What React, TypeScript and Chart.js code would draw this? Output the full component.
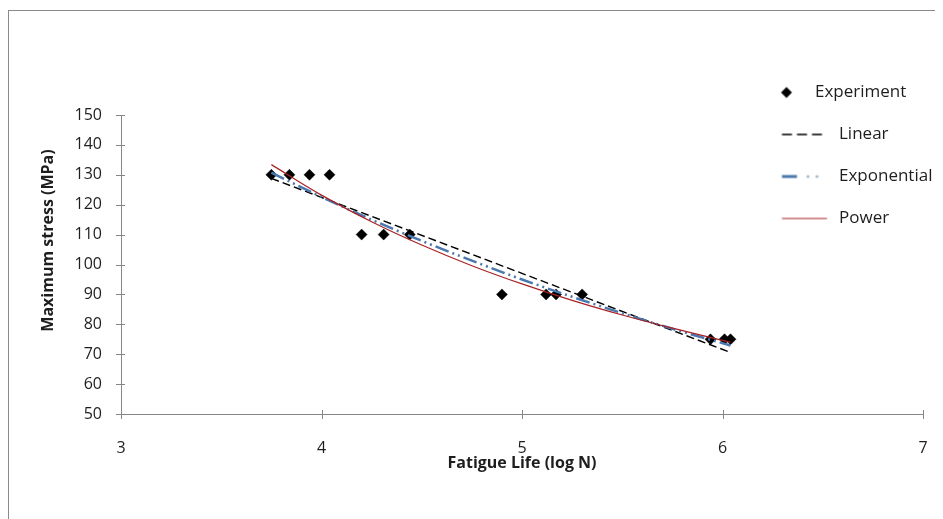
import React, { useEffect, useRef } from 'react';
import { Chart, registerables } from 'chart.js';

Chart.register(...registerables);

// ---- data ----
const EXPERIMENT_X = [3.75, 3.84, 3.94, 4.04, 4.2, 4.31, 4.44, 4.9, 5.12, 5.17, 5.3, 5.94, 6.01, 6.04];
const EXPERIMENT_Y = [130, 130, 130, 130, 110, 110, 110, 90, 90, 90, 90, 75, 75, 75];
const LINEAR_X = [3.75, 6.04];
const LINEAR_Y = [128.8, 70.6];
const EXPONENTIAL_X = [3.75, 4, 4.25, 4.5, 4.75, 5, 5.25, 5.5, 5.75, 6.04];
const EXPONENTIAL_Y = [130.7, 122.6, 115.0, 107.9, 101.3, 95.0, 89.2, 83.7, 78.5, 72.9];
const POWER_X = [3.75, 4, 4.25, 4.5, 4.75, 5, 5.25, 5.5, 5.75, 6.04];
const POWER_Y = [133.4, 123.2, 114.3, 106.5, 99.6, 93.5, 88.0, 83.1, 78.7, 74.0];
const SERIES_NAMES = ['Experiment', 'Linear', 'Exponential', 'Power'];
const X_TICKS = [3, 4, 5, 6, 7];
const Y_TICKS = [50, 60, 70, 80, 90, 100, 110, 120, 130, 140, 150];
const X_TITLE = 'Fatigue Life (log N)';
const Y_TITLE = 'Maximum stress (MPa)';

const FONT = "'Open Sans', 'DejaVu Sans', sans-serif";
const LEGEND_FONT_SIZE = 17;
const AXIS_COLOR = '#868686';
const TEXT_COLOR = '#1e1e1e';
const EXP_COLOR = '#4A78AE';
const POWER_COLOR = '#A82326';

const pts = (xs: number[], ys: number[]) => xs.map((x, i) => ({ x, y: ys[i] }));

function makeSample(kind: string): HTMLCanvasElement {
  const c = document.createElement('canvas');
  c.width = 52;
  c.height = 14;
  const g = c.getContext('2d')!;
  const cy = 7;
  if (kind === 'diamond') {
    const cx = 8, r = 5.5;
    g.fillStyle = '#000';
    g.beginPath();
    g.moveTo(cx - r, cy);
    g.lineTo(cx, cy - r);
    g.lineTo(cx + r, cy);
    g.lineTo(cx, cy + r);
    g.closePath();
    g.fill();
  } else if (kind === 'linear') {
    g.strokeStyle = '#000';
    g.lineWidth = 1.5;
    g.setLineDash([10, 5]);
    g.beginPath();
    g.moveTo(3.5, cy);
    g.lineTo(48.5, cy);
    g.stroke();
  } else if (kind === 'exp') {
    g.strokeStyle = EXP_COLOR;
    g.lineWidth = 3;
    g.beginPath();
    g.moveTo(3.5, cy);
    g.lineTo(18.5, cy);
    g.stroke();
    g.fillStyle = '#a9bccd';
    [29.5, 38.5].forEach((dx) => {
      g.beginPath();
      g.arc(dx, cy, 1.6, 0, Math.PI * 2);
      g.fill();
    });
  } else {
    g.strokeStyle = POWER_COLOR;
    g.lineWidth = 1.2;
    g.beginPath();
    g.moveTo(3.5, cy);
    g.lineTo(48.5, cy);
    g.stroke();
  }
  return c;
}

export default function App() {
  const ref = useRef<HTMLCanvasElement | null>(null);

  useEffect(() => {
    document.documentElement.style.overflow = 'hidden';
    document.body.style.overflow = 'hidden';
    const canvas = ref.current;
    if (!canvas) return;

    const samples = [makeSample('diamond'), makeSample('linear'), makeSample('exp'), makeSample('power')];

    const legendPlacer = {
      id: 'legendPlacer',
      afterLayout(chart: any) {
        const l = chart.legend;
        if (!l) return;
        const left = 745.5;
        const top = 51;
        const ctx = chart.ctx;
        ctx.save();
        ctx.font = `${LEGEND_FONT_SIZE}px ${FONT}`;
        const w = ctx.measureText(SERIES_NAMES[0]).width;
        ctx.restore();
        const right = 807 + w; // "Experiment" text is right-aligned to this edge
        l.left = left;
        l.top = top;
        l.width = right - left;
        l.height = 220;
        l.right = right;
        l.bottom = top + 220;
        if (!l.__noclip && typeof l._draw === 'function') {
          l.__noclip = true;
          l.draw = function () {
            if (this.options.display) this._draw();
          };
        }
      },
    };

    const crossTicks = {
      id: 'crossTicks',
      beforeDatasetsDraw(chart: any) {
        const { ctx, scales } = chart;
        const xs = scales.x;
        const ys = scales.y;
        ctx.save();
        ctx.strokeStyle = AXIS_COLOR;
        ctx.lineWidth = 1;
        ctx.beginPath();
        X_TICKS.forEach((v) => {
          const px = Math.round(xs.getPixelForValue(v)) + 0.5;
          ctx.moveTo(px, xs.top - 4);
          ctx.lineTo(px, xs.top + 5);
        });
        Y_TICKS.forEach((v) => {
          const py = Math.round(ys.getPixelForValue(v)) + 0.5;
          ctx.moveTo(ys.right - 5, py);
          ctx.lineTo(ys.right + 4, py);
        });
        ctx.stroke();
        ctx.restore();
      },
    };

    const chart = new Chart(canvas, {
      type: 'scatter',
      data: {
        datasets: [
          {
            label: SERIES_NAMES[0],
            data: pts(EXPERIMENT_X, EXPERIMENT_Y),
            pointStyle: 'rectRot',
            pointRadius: 5.5,
            pointBackgroundColor: '#000',
            pointBorderColor: '#000',
            pointBorderWidth: 0.5,
            showLine: false,
            order: 10,
          },
          {
            label: SERIES_NAMES[1],
            data: pts(LINEAR_X, LINEAR_Y),
            showLine: true,
            borderColor: '#000',
            borderWidth: 1.4,
            borderDash: [8, 4],
            pointRadius: 0,
            order: 3,
          },
          {
            label: SERIES_NAMES[2],
            data: pts(EXPONENTIAL_X, EXPONENTIAL_Y),
            showLine: true,
            borderColor: EXP_COLOR,
            borderWidth: 2.5,
            borderDash: [14, 4, 2, 4, 2, 4],
            pointRadius: 0,
            cubicInterpolationMode: 'monotone',
            order: 2,
          },
          {
            label: SERIES_NAMES[3],
            data: pts(POWER_X, POWER_Y),
            showLine: true,
            borderColor: POWER_COLOR,
            borderWidth: 1.2,
            pointRadius: 0,
            cubicInterpolationMode: 'monotone',
            order: 1,
          },
        ],
      },
      options: {
        responsive: false,
        animation: false,
        events: [],
        layout: { padding: { left: 0, right: 20, top: 107, bottom: 0 } },
        font: { family: FONT, size: 16 },
        color: TEXT_COLOR,
        plugins: {
          tooltip: { enabled: false },
          legend: {
            display: true,
            position: 'chartArea',
            align: 'start',
            labels: {
              usePointStyle: true,
              pointStyleWidth: 52,
              boxHeight: 16,
              padding: 25,
              font: { family: FONT, size: LEGEND_FONT_SIZE },
              color: TEXT_COLOR,
              generateLabels: () =>
                SERIES_NAMES.map((t, i) => ({
                  text: t,
                  pointStyle: samples[i],
                  fontColor: TEXT_COLOR,
                  fillStyle: 'rgba(0,0,0,0)',
                  strokeStyle: 'rgba(0,0,0,0)',
                  lineWidth: 0,
                  hidden: false,
                  datasetIndex: i,
                  textAlign: i === 0 ? 'right' : 'left',
                })),
            },
          },
        },
        scales: {
          x: {
            type: 'linear',
            min: 3,
            max: 7,
            grid: { display: false },
            border: { display: true, color: AXIS_COLOR, width: 1 },
            afterBuildTicks: (s: any) => {
              s.ticks = X_TICKS.map((v) => ({ value: v }));
            },
            afterFit: (s: any) => {
              s.height = 105;
              s.paddingLeft = 0;
              s.paddingRight = 0;
            },
            ticks: {
              padding: 17,
              color: TEXT_COLOR,
              font: { family: FONT, size: 16 },
              maxRotation: 0,
            },
            title: {
              display: true,
              text: X_TITLE,
              color: TEXT_COLOR,
              font: { family: FONT, size: 16, weight: 'bold' },
              padding: { top: 0, bottom: 46 },
            },
          },
          y: {
            type: 'linear',
            min: 50,
            max: 150,
            grid: { display: false },
            border: { display: true, color: AXIS_COLOR, width: 1 },
            afterBuildTicks: (s: any) => {
              s.ticks = Y_TICKS.map((v) => ({ value: v }));
            },
            afterFit: (s: any) => {
              s.width = 113;
              if (!s.__shifted) {
                s.__shifted = true;
                const orig = s.drawTitle.bind(s);
                s.drawTitle = () => {
                  s.ctx.save();
                  s.ctx.translate(0, -24);
                  orig();
                  s.ctx.restore();
                };
              }
            },
            ticks: {
              padding: 11,
              color: TEXT_COLOR,
              font: { family: FONT, size: 16 },
            },
            title: {
              display: true,
              text: Y_TITLE,
              color: TEXT_COLOR,
              font: { family: FONT, size: 16, weight: 'bold' },
              padding: { top: 31, bottom: 0 },
            },
          },
        },
      },
      plugins: [legendPlacer, crossTicks],
    } as any);

    return () => {
      chart.destroy();
    };
  }, []);

  return (
    <div style={{ position: 'relative', width: 935, height: 511, overflow: 'hidden', background: '#fff' }}>
      <div
        style={{
          position: 'absolute',
          left: 0,
          top: 2,
          width: 1000,
          height: 1000,
          border: '1px solid #8a8a8a',
          boxSizing: 'border-box',
        }}
      />
      <canvas
        ref={ref}
        width={935}
        height={511}
        style={{ position: 'absolute', left: 0, top: 0, width: 935, height: 511 }}
      />
    </div>
  );
}
